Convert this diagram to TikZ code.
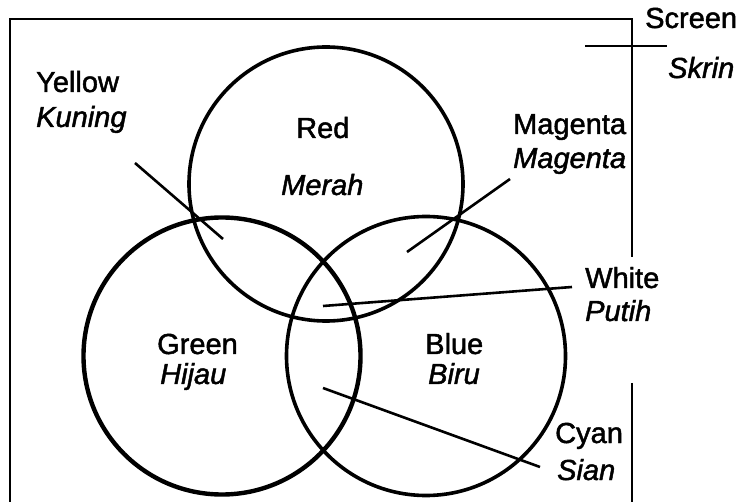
\documentclass[tikz,border=0pt]{standalone}
\usepackage{fontspec}
\setmainfont{Liberation Sans}
\newfontfamily\scanfont{Liberation Sans}[FakeBold=1.6]
\newfontfamily\scanifont{Liberation Sans Italic}[FakeBold=1.6]
\begin{document}
\begin{tikzpicture}[x=1pt,y=-1pt,
  frame/.style={line width=2.8pt},
  ring/.style={circle,draw,line width=3.6pt,inner sep=0pt},
  leader/.style={line width=2.6pt},
  lbl/.style={anchor=base west,inner sep=0pt,font=\scanfont\fontsize{29}{33}\selectfont},
  ilbl/.style={anchor=base west,inner sep=0pt,font=\scanifont\fontsize{29}{33}\selectfont}]
\useasboundingbox (0,0) rectangle (747,502);
% frame / screen
\coordinate (f1) at (10,502);
\coordinate (f2) at (10,19);
\coordinate (f3) at (632,19);
\coordinate (f4) at (632,257);
\coordinate (f5) at (632,383);
\coordinate (f6) at (632,502);
\coordinate (t1) at (585,46);
\coordinate (t2) at (667,46);
\draw[frame,line join=miter] (f1) -- (f2) -- (f3) -- (f4);
\draw[frame] (f5) -- (f6);
\draw[frame] (t1) -- (t2);
% circles
\node[ring,minimum size=274pt] (red) at (326,184) {};
\node[ring,minimum size=277pt,line width=4.4pt] (green) at (222,356) {};
\node[ring,minimum size=279pt] (blue) at (426,356) {};
% labels
\node[lbl] (screen) at (645,28) {Screen};
\node[ilbl] (skrin) at (668,78) {Skrin};
\node[lbl] (yellow) at (36,92) {Yellow};
\node[ilbl] (kuning) at (36,127) {Kuning};
\node[lbl] (redl) at (296,138) {Red};
\node[ilbl] (merah) at (281,195) {Merah};
\node[lbl] (magenta) at (513,134) {Magenta};
\node[ilbl] (magentai) at (513,168) {Magenta};
\node[lbl] (white) at (585,288) {White};
\node[ilbl] (putih) at (585,321) {Putih};
\node[lbl] (greenl) at (157,354) {Green};
\node[ilbl] (hijau) at (160,384) {Hijau};
\node[lbl] (bluel) at (425,354) {Blue};
\node[ilbl] (biru) at (428,384) {Biru};
\node[lbl] (cyan) at (555,443) {Cyan};
\node[ilbl] (sian) at (557,480) {Sian};
% leaders
\coordinate (y1) at (135,163);
\coordinate (y2) at (223,239);
\coordinate (m1) at (510,179);
\coordinate (m2) at (407,252);
\coordinate (w1) at (572,287);
\coordinate (w2) at (323,306);
\coordinate (c1) at (540,467);
\coordinate (c2) at (323,388);
\draw[leader] (y1) -- (y2);
\draw[leader] (m1) -- (m2);
\draw[leader] (w1) -- (w2);
\draw[leader] (c1) -- (c2);
\end{tikzpicture}
\end{document}
